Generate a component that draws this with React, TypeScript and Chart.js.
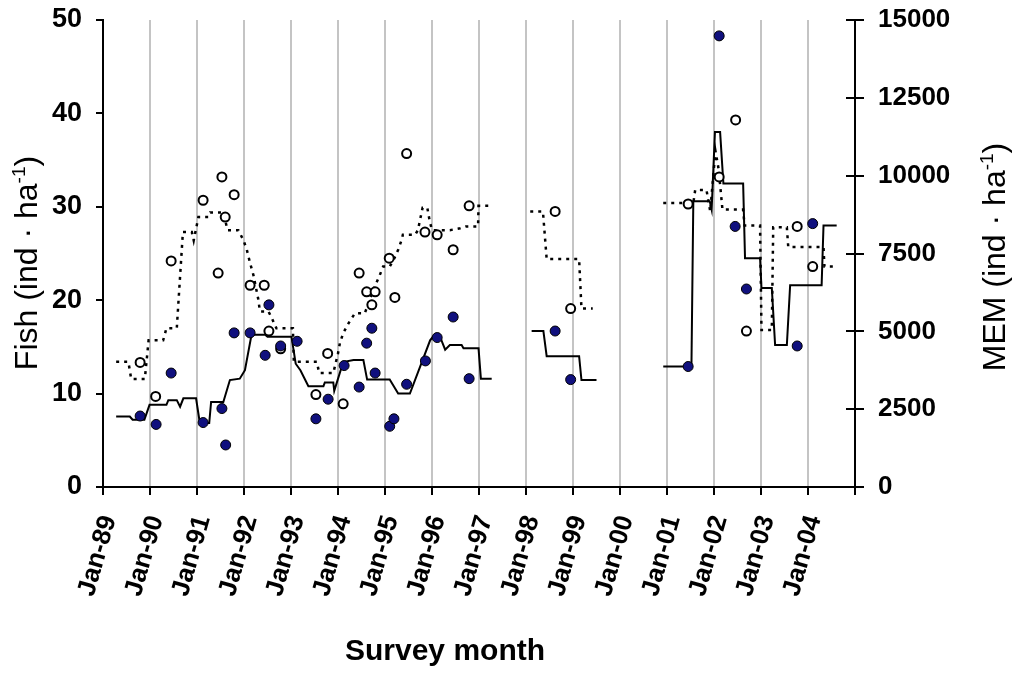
import React, { useEffect, useRef } from 'react';
import { Chart, registerables } from 'chart.js';

Chart.register(...registerables);

// ---- Data ----
const yearTickLabels = [
  'Jan-89', 'Jan-90', 'Jan-91', 'Jan-92', 'Jan-93', 'Jan-94', 'Jan-95', 'Jan-96',
  'Jan-97', 'Jan-98', 'Jan-99', 'Jan-00', 'Jan-01', 'Jan-02', 'Jan-03', 'Jan-04',
];

// Fish survey values (filled dots, left axis, ind · ha-1)
const fishSurveyYears = [
  1989.79, 1990.13, 1990.45, 1991.13, 1991.53, 1991.61, 1991.79, 1992.13, 1992.45, 1992.53,
  1992.78, 1993.13, 1993.53, 1993.79, 1994.13, 1994.45, 1994.61, 1994.72, 1994.79, 1995.10,
  1995.19, 1995.46, 1995.86, 1996.11, 1996.45, 1996.79, 1998.62, 1998.95, 2001.45, 2002.11,
  2002.45, 2002.69, 2003.77, 2004.10,
];
const fishSurveyValues = [
  7.6, 6.7, 12.2, 6.9, 8.4, 4.5, 16.5, 16.5, 14.1, 19.5,
  15.1, 15.6, 7.3, 9.4, 13.0, 10.7, 15.4, 17.0, 12.2, 6.5,
  7.3, 11.0, 13.5, 16.0, 18.2, 11.6, 16.7, 11.5, 12.9, 48.3,
  27.9, 21.2, 15.1, 28.2,
];

// MEM survey values (open circles, right axis, ind · ha-1)
const memSurveyYears = [
  1989.79, 1990.12, 1990.45, 1991.13, 1991.45, 1991.53, 1991.60, 1991.79, 1992.13, 1992.43,
  1992.53, 1992.78, 1993.53, 1993.78, 1994.11, 1994.45, 1994.61, 1994.72, 1994.79, 1995.09,
  1995.21, 1995.46, 1995.85, 1996.11, 1996.45, 1996.79, 1998.62, 1998.95, 2001.45, 2002.11,
  2002.46, 2002.69, 2003.77, 2004.10,
];
const memSurveyValues = [
  4000, 2910, 7260, 9210, 6870, 9960, 8670, 9390, 6480, 6480,
  5010, 4440, 2970, 4290, 2670, 6870, 6270, 5850, 6270, 7350,
  6090, 10710, 8190, 8100, 7620, 9030, 8850, 5730, 9090, 9960,
  11790, 5010, 8370, 7080,
];

// Fish running mean (solid step line); null = gap
const fishMeanYears = [
  1989.28, 1989.57, 1989.63, 1989.88, 1989.99, 1990.35, 1990.39, 1990.57, 1990.64, 1990.71,
  1990.98, 1991.06, 1991.26, 1991.30, 1991.56, 1991.70, 1991.91, 1992.02, 1992.16, 1992.45,
  1992.50, 1993.01, 1993.10, 1993.20, 1993.37, 1993.69, 1993.72, 1993.90, 1993.92, 1994.10,
  1994.13, 1994.33, 1994.54, 1994.62, 1995.10, 1995.28, 1995.53, 1995.96, 1996.02, 1996.17,
  1996.28, 1996.38, 1996.63, 1996.67, 1996.99, 1997.04, 1997.27, 1997.70,
  1998.12, 1998.37, 1998.44, 1999.13, 1999.18, 1999.50, 2000.20,
  2000.92, 2001.52, 2001.56, 2001.91, 2001.95, 2002.02, 2002.13, 2002.20, 2002.62, 2002.66,
  2002.98, 2003.01, 2003.23, 2003.30, 2003.55, 2003.62, 2004.29, 2004.33, 2004.61,
];
const fishMeanValues = [
  7.55, 7.55, 7.2, 7.2, 8.8, 8.8, 9.3, 9.3, 8.6, 9.5,
  9.5, 6.85, 6.85, 9.1, 9.1, 11.45, 11.6, 12.5, 16.3, 16.3,
  16.1, 16.1, 13.2, 12.5, 10.8, 10.8, 11.2, 11.2, 10.3, 13.2,
  13.4, 13.6, 13.6, 11.5, 11.5, 10.0, 10.0, 15.7, 16.1, 16.1,
  14.7, 15.2, 15.2, 14.85, 14.85, 11.6, 11.6, null,
  16.7, 16.7, 14.0, 14.0, 11.45, 11.45, null,
  12.9, 12.9, 30.6, 30.6, 29.7, 38.0, 38.0, 32.5, 32.5, 24.5,
  24.5, 21.3, 21.3, 15.2, 15.2, 21.6, 21.6, 28.0, 28.0,
];

// MEM running mean (dotted step line); null = gap
const memMeanYears = [
  1989.28, 1989.54, 1989.60, 1989.89, 1989.97, 1990.28, 1990.35, 1990.57, 1990.70, 1990.89,
  1990.93, 1991.03, 1991.24, 1991.28, 1991.56, 1991.65, 1991.88, 1991.99, 1992.06, 1992.13,
  1992.20, 1992.30, 1992.34, 1992.52, 1992.59, 1992.69, 1993.04, 1993.06, 1993.55, 1993.60,
  1993.90, 1994.00, 1994.04, 1994.11, 1994.22, 1994.36, 1994.57, 1994.75, 1994.89, 1994.96,
  1995.10, 1995.20, 1995.28, 1995.35, 1995.38, 1995.64, 1995.70, 1995.80, 1995.90, 1995.95,
  1996.00, 1996.38, 1996.60, 1996.72, 1996.98, 1996.99, 1997.27, 1997.70,
  1998.09, 1998.36, 1998.44, 1999.13, 1999.18, 1999.42, 2000.20,
  2000.92, 2001.56, 2001.60, 2001.84, 2001.92, 2002.03, 2002.10, 2002.18, 2002.62, 2002.65,
  2002.98, 2003.01, 2003.23, 2003.26, 2003.55, 2003.58, 2004.33, 2004.35, 2004.57,
];
const memMeanValues = [
  4020, 4020, 3470, 3470, 4710, 4710, 5100, 5100, 8190, 8190,
  7920, 8670, 8670, 8820, 8820, 8250, 8250, 7920, 7620, 7190,
  6810, 6060, 5640, 5640, 5430, 5100, 5100, 4020, 4020, 3660,
  3660, 4290, 4620, 4940, 5250, 5580, 5580, 6330, 6810, 7080,
  7080, 7350, 7620, 7920, 8100, 8100, 8250, 8970, 8970, 8550,
  8250, 8250, 8310, 8370, 8370, 9030, 9030, null,
  8850, 8850, 7320, 7320, 5730, 5730, null,
  9120, 9120, 9540, 9540, 8850, 10800, 10200, 8910, 8910, 8400,
  8400, 5040, 5040, 8340, 8340, 7710, 7710, 7080, 7080,
];

const toPoints = (xs: number[], ys: (number | null)[]) => xs.map((x, i) => ({ x, y: ys[i] }));

const FONT = '"Liberation Sans", Arial, sans-serif';

function drawRotatedTitle(
  ctx: CanvasRenderingContext2D,
  main: string,
  sup: string,
  tail: string,
  baselineX: number,
  centerY: number,
) {
  ctx.save();
  ctx.translate(baselineX, centerY);
  ctx.rotate(-Math.PI / 2);
  ctx.fillStyle = '#000';
  ctx.textBaseline = 'alphabetic';
  ctx.textAlign = 'left';
  const mainFont = `32px ${FONT}`;
  const supFont = `19px ${FONT}`;
  ctx.font = mainFont;
  const w1 = ctx.measureText(main).width;
  const w3 = ctx.measureText(tail).width;
  ctx.font = supFont;
  const w2 = ctx.measureText(sup).width;
  const start = -(w1 + w2 + w3) / 2;
  ctx.font = mainFont;
  ctx.fillText(main, start, 0);
  ctx.font = supFont;
  ctx.fillText(sup, start + w1, -12);
  ctx.font = mainFont;
  ctx.fillText(tail, start + w1 + w2, 0);
  ctx.restore();
}

const decorPlugin = {
  id: 'decor',
  afterDraw(chart: any) {
    const ctx: CanvasRenderingContext2D = chart.ctx;
    drawRotatedTitle(ctx, 'Fish (ind · ha', '-1', ')', 37, 263);
    drawRotatedTitle(ctx, 'MEM (ind · ha', '-1', ')', 1005, 257);

    ctx.save();
    ctx.fillStyle = '#000';
    ctx.font = `bold 30px ${FONT}`;
    ctx.textAlign = 'center';
    ctx.textBaseline = 'middle';
    ctx.fillText('Survey month', 445, 652);

    // inward part of the right-axis tick marks
    const y1 = chart.scales.y1;
    ctx.strokeStyle = '#000';
    ctx.lineWidth = 2;
    y1.ticks.forEach((t: any) => {
      const py = Math.round(y1.getPixelForValue(t.value));
      ctx.beginPath();
      ctx.moveTo(y1.left - 9, py);
      ctx.lineTo(y1.left, py);
      ctx.stroke();
    });
    ctx.restore();
  },
};

export default function App() {
  const canvasRef = useRef<HTMLCanvasElement | null>(null);

  useEffect(() => {
    if (!canvasRef.current) return;
    const chart = new Chart(canvasRef.current, {
      type: 'scatter',
      data: {
        datasets: [
          {
            type: 'line',
            label: 'Fish mean',
            data: toPoints(fishMeanYears, fishMeanValues),
            yAxisID: 'y',
            borderColor: '#000',
            borderWidth: 2,
            pointRadius: 0,
            tension: 0,
            spanGaps: false,
            fill: false,
            order: 3,
          },
          {
            type: 'line',
            label: 'MEM mean',
            data: toPoints(memMeanYears, memMeanValues),
            yAxisID: 'y1',
            borderColor: '#000',
            borderWidth: 2.5,
            borderDash: [3, 5],
            pointRadius: 0,
            tension: 0,
            spanGaps: false,
            fill: false,
            order: 4,
          },
          {
            label: 'MEM',
            data: toPoints(memSurveyYears, memSurveyValues),
            yAxisID: 'y1',
            pointRadius: 4.5,
            pointBackgroundColor: '#fff',
            pointBorderColor: '#000',
            pointBorderWidth: 2,
            showLine: false,
            order: 2,
          },
          {
            label: 'Fish',
            data: toPoints(fishSurveyYears, fishSurveyValues),
            yAxisID: 'y',
            pointRadius: 5,
            pointBackgroundColor: '#10107e',
            pointBorderColor: '#000',
            pointBorderWidth: 1,
            showLine: false,
            order: 1,
          },
        ],
      },
      options: {
        responsive: false,
        animation: false,
        events: [],
        layout: { padding: { top: 20, left: 0, right: 0, bottom: 0 } },
        plugins: {
          legend: { display: false },
          tooltip: { enabled: false },
        },
        scales: {
          x: {
            type: 'linear',
            min: 1989,
            max: 2005,
            afterFit: (s: any) => { s.height = 190; },
            border: { display: true, color: '#000', width: 2 },
            grid: {
              color: '#c4c4c4',
              lineWidth: 2,
              tickColor: '#000',
              tickLength: 8,
              tickWidth: 2,
              drawOnChartArea: true,
            },
            ticks: {
              stepSize: 1,
              autoSkip: false,
              maxRotation: 74,
              minRotation: 74,
              padding: 17,
              labelOffset: 6,
              color: '#000',
              font: { family: FONT, size: 26, weight: 'bold' },
              callback: (v: any) => {
                const i = Math.round(Number(v)) - 1989;
                return yearTickLabels[i] ?? '';
              },
            },
          },
          y: {
            type: 'linear',
            position: 'left',
            min: 0,
            max: 50,
            afterFit: (s: any) => { s.width = 103; s.paddingTop = 0; s.paddingBottom = 0; },
            border: { display: true, color: '#000', width: 2 },
            grid: {
              drawOnChartArea: false,
              color: '#000',
              tickLength: 7,
              lineWidth: 2,
            },
            ticks: {
              stepSize: 10,
              padding: 14,
              color: '#000',
              font: { family: FONT, size: 27, weight: 'bold' },
            },
          },
          y1: {
            type: 'linear',
            position: 'right',
            min: 0,
            max: 15000,
            afterFit: (s: any) => { s.width = 160; s.paddingTop = 0; s.paddingBottom = 0; },
            border: { display: true, color: '#000', width: 2 },
            grid: {
              drawOnChartArea: false,
              color: '#000',
              tickLength: 9,
              lineWidth: 2,
            },
            ticks: {
              stepSize: 2500,
              padding: 14,
              color: '#000',
              font: { family: FONT, size: 26, weight: 'bold' },
              callback: (v: any) => String(v),
            },
          },
        },
      },
      plugins: [decorPlugin],
    } as any);
    return () => chart.destroy();
  }, []);

  return (
    <div style={{ position: 'absolute', left: 0, top: 0, width: 1015, height: 677, background: '#fff' }}>
      <canvas ref={canvasRef} width={1015} height={677} />
    </div>
  );
}
